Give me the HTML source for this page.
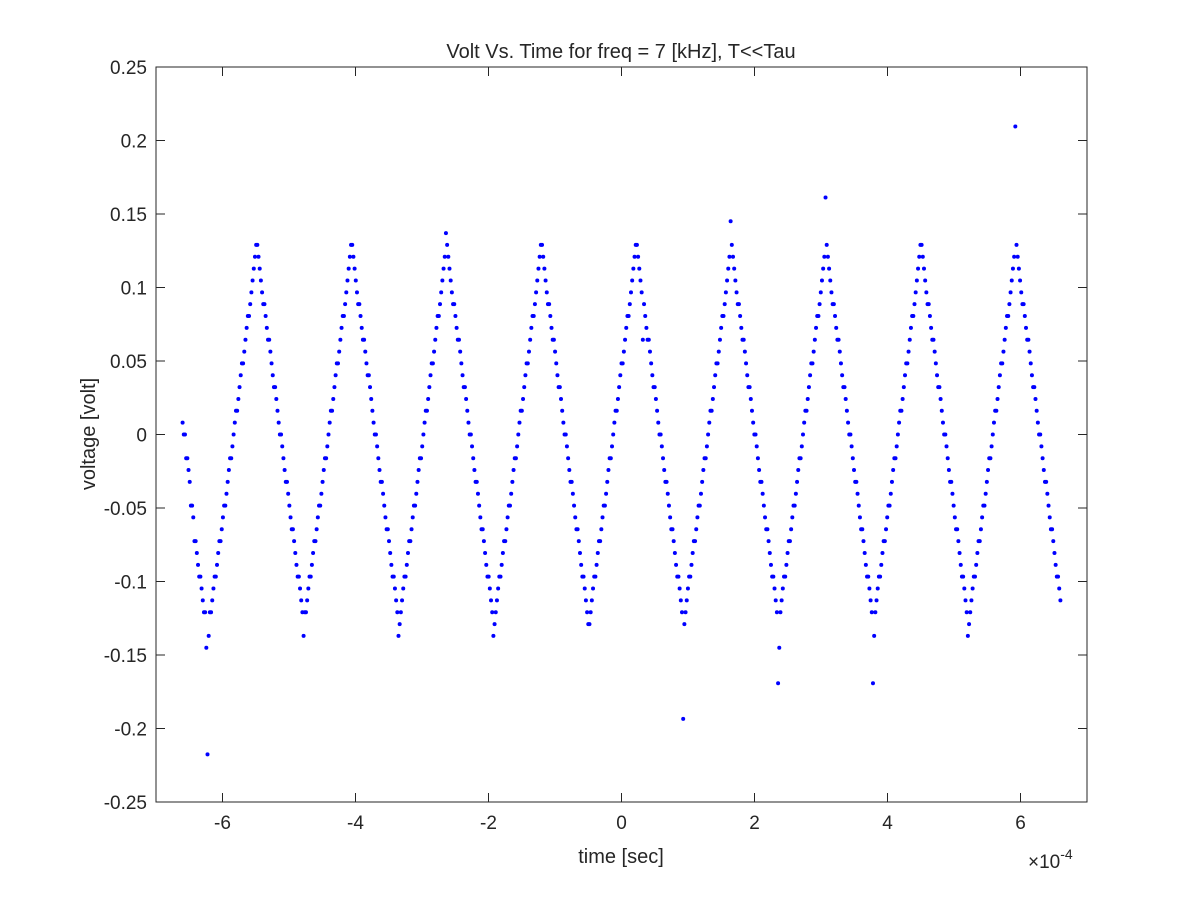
<!DOCTYPE html>
<html><head><meta charset="utf-8"><style>
body{margin:0;background:#fff}
svg text{font-family:"Liberation Sans",Arial,sans-serif;fill:#262626}
</style></head><body>
<svg id="chart" width="1200" height="900" xmlns="http://www.w3.org/2000/svg">
<rect width="1200" height="900" fill="#fff"/>
<rect x="156" y="67" width="931" height="735" fill="#fff"/>
<g id="ticks"></g>
<g id="marks"></g>
<rect x="156" y="67" width="931" height="735" fill="none" stroke="#262626" stroke-width="1"/>
<text x="621" y="58" font-size="20" text-anchor="middle">Volt Vs. Time for freq = 7 [kHz], T&lt;&lt;Tau</text>
<text x="621" y="863" font-size="20" text-anchor="middle">time [sec]</text>
<text transform="translate(95,434) rotate(-90)" font-size="20" text-anchor="middle">voltage [volt]</text>
<text x="1028" y="868" font-size="19">×10<tspan dy="-9" font-size="14">-4</tspan></text>
</svg>
<script>
const xTicks=[-6,-4,-2,0,2,4,6];
const xTickLabels=["-6","-4","-2","0","2","4","6"];
const yTicks=[0.25,0.2,0.15,0.1,0.05,0,-0.05,-0.1,-0.15,-0.2,-0.25];
const yTickLabels=["0.25","0.2","0.15","0.1","0.05","0","-0.05","-0.1","-0.15","-0.2","-0.25"];
const levelStep=0.00806;
const startTime=-6.6e-4;
const endTime=6.6e-4;
const levels=[
1,0,0,-2,-2,-3,-4,-6,-6,-7,-9,-9,-10,-11,-12,-12,-13,-14,-15,-15,-18,-27,
-17,-15,-15,-14,-13,-12,-12,-11,-10,-9,-9,-8,-7,-6,-6,-5,-4,-3,-2,-2,-1,0,1,2,2,3,4,5,6,6,7,8,9,10,10,11,12,13,14,15,
16,16,15,14,13,12,11,11,10,9,8,8,7,6,5,4,4,3,2,1,0,0,-1,-2,-3,-4,-4,-5,-6,-7,-8,-8,-9,-10,-11,-12,-12,-13,-14,-15,
-17,-15,-15,-14,-13,-12,-12,-11,-10,-9,-9,-8,-7,-6,-6,-5,-4,-3,-2,-2,-1,0,1,2,2,3,4,5,6,6,7,8,9,10,10,11,12,13,14,15,
16,16,15,14,13,12,11,11,10,9,8,8,7,6,5,5,4,3,2,1,0,0,-1,-2,-3,-4,-4,-5,-6,-7,-8,-8,-9,-10,-11,-12,-12,-13,-14,-15,
-17,-16,-15,-14,-13,-12,-12,-11,-10,-9,-9,-8,-7,-6,-6,-5,-4,-3,-2,-2,-1,0,1,2,2,3,4,5,6,6,7,8,9,10,10,11,12,13,14,15,
17,16,15,14,13,12,11,11,10,9,8,8,7,6,5,4,4,3,2,1,0,0,-1,-2,-3,-4,-4,-5,-6,-7,-8,-8,-9,-10,-11,-12,-12,-13,-14,-15,
-17,-16,-15,-14,-13,-12,-12,-11,-10,-9,-9,-8,-7,-6,-6,-5,-4,-3,-2,-2,-1,0,1,2,2,3,4,5,6,6,7,8,9,10,10,11,12,13,14,15,
16,16,15,14,13,12,11,11,10,9,8,8,7,6,5,4,4,3,2,1,0,0,-1,-2,-3,-4,-4,-5,-6,-7,-8,-8,-9,-10,-11,-12,-12,-13,-14,-15,
-16,-16,-15,-14,-13,-12,-12,-11,-10,-9,-9,-8,-7,-6,-6,-5,-4,-3,-2,-2,-1,0,1,2,2,3,4,5,6,6,7,8,9,10,10,11,12,13,14,15,
16,16,15,14,13,12,8,11,10,9,8,8,7,6,5,4,4,3,2,1,0,0,-1,-2,-3,-4,-4,-5,-6,-7,-8,-8,-9,-10,-11,-12,-12,-13,-14,-15,
-24,-16,-15,-14,-13,-12,-12,-11,-10,-9,-9,-8,-7,-6,-6,-5,-4,-3,-2,-2,-1,0,1,2,2,3,4,5,6,6,7,8,9,10,10,11,12,13,14,15,
18,16,15,14,13,12,11,11,10,9,8,8,7,6,5,4,4,3,2,1,0,0,-1,-2,-3,-4,-4,-5,-6,-7,-8,-8,-9,-10,-11,-12,-12,-13,-14,-15,
-21,-18,-15,-14,-13,-12,-12,-11,-10,-9,-9,-8,-7,-6,-6,-5,-4,-3,-2,-2,-1,0,1,2,2,3,4,5,6,6,7,8,9,10,10,11,12,13,14,15,
20,16,15,14,13,12,11,11,10,9,8,8,7,6,5,4,4,3,2,1,0,0,-1,-2,-3,-4,-4,-5,-6,-7,-8,-8,-9,-10,-11,-12,-12,-13,-14,-15,
-21,-17,-15,-14,-13,-12,-12,-11,-10,-9,-9,-8,-7,-6,-6,-5,-4,-3,-2,-2,-1,0,1,2,2,3,4,5,6,6,7,8,9,10,10,11,12,13,14,15,
16,16,15,14,13,12,11,11,10,9,8,8,7,6,5,4,4,3,2,1,0,0,-1,-2,-3,-4,-4,-5,-6,-7,-8,-8,-9,-10,-11,-12,-12,-13,-14,-15,
-17,-16,-15,-14,-13,-12,-12,-11,-10,-9,-9,-8,-7,-6,-6,-5,-4,-3,-2,-2,-1,0,1,2,2,3,4,5,6,6,7,8,9,10,10,11,12,13,14,15,
26,16,15,14,13,12,11,11,10,9,8,8,7,6,5,4,4,3,2,1,0,0,-1,-2,-3,-4,-4,-5,-6,-7,-8,-8,-9,-10,-11,-12,-12,-13,-14
];
const NS="http://www.w3.org/2000/svg";
const X0=156,X1=1087,Y0=67,Y1=802;
function xs(v){return X0+(v*1e4+7)/14*(X1-X0);}
function ys(v){return Y1-(v+0.25)/0.5*(Y1-Y0);}
const tk=document.getElementById('ticks');
const mk=document.getElementById('marks');
function el(tag,attrs,parent){const e=document.createElementNS(NS,tag);for(const k in attrs)e.setAttribute(k,attrs[k]);parent.appendChild(e);return e;}
xTicks.forEach((t,i)=>{
  const x=xs(t*1e-4);
  const a=el('line',{x1:x,x2:x,y1:Y1,y2:Y1-9,stroke:'#262626'},tk);
  
  
  const b=el('line',{x1:x,x2:x,y1:Y0,y2:Y0+9,stroke:'#262626'},tk);
  
  
  const l=el('text',{x:x,y:829,'font-size':19,'text-anchor':'middle'},tk);
  l.textContent=xTickLabels[i];
  
  
});
yTicks.forEach((t,i)=>{
  const y=ys(t);
  const a=el('line',{x1:X0,x2:X0+9,y1:y,y2:y,stroke:'#262626'},tk);
  
  
  const b=el('line',{x1:X1,x2:X1-9,y1:y,y2:y,stroke:'#262626'},tk);
  
  
  const l=el('text',{x:147,y:y+7,'font-size':19,'text-anchor':'end'},tk);
  l.textContent=yTickLabels[i];
  
  
});
const n=levels.length;
levels.forEach((lv,i)=>{
  const t=startTime+(endTime-startTime)*i/(n-1);
  const c=el('circle',{cx:xs(t),cy:ys(lv*levelStep),r:2,fill:'#0000ff'},mk);
  
  
});
</script>
</body></html>
